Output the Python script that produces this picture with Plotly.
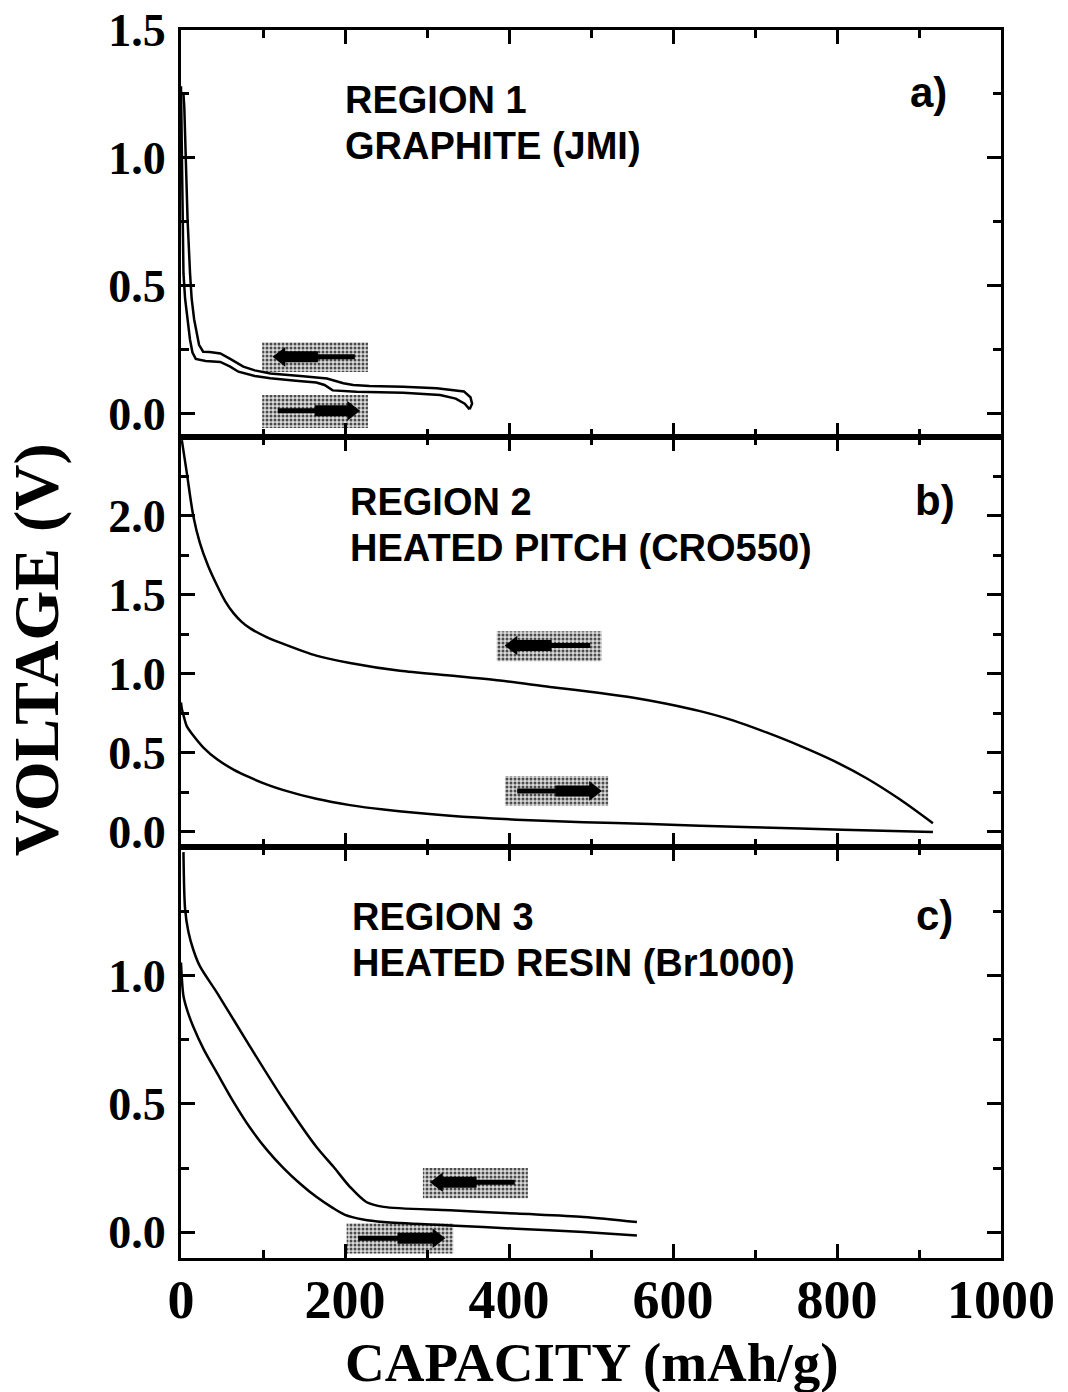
import plotly.graph_objects as go

# ---------------- data ----------------
# Panel a) Region 1, graphite (JMI)
cap_a_dis = [0, 1, 2, 3, 5, 8, 11, 14, 18, 30, 48, 60, 70, 90, 109, 140, 165, 175, 185, 214, 271, 316, 335, 346, 352]
v_a_dis = [1.28, 1.0, 0.76, 0.55, 0.45, 0.37, 0.29, 0.24, 0.215, 0.207, 0.203, 0.185, 0.165, 0.148, 0.139, 0.13, 0.123, 0.113, 0.092, 0.087, 0.083, 0.074, 0.06, 0.04, 0.018]
cap_a_chg = [352, 355, 353, 345, 312, 271, 230, 210, 198, 185, 178, 149, 109, 90, 76, 60, 48, 35, 27, 22, 19, 16, 13, 11, 8, 6, 4, 3]
v_a_chg = [0.018, 0.04, 0.065, 0.088, 0.10, 0.106, 0.109, 0.113, 0.12, 0.133, 0.138, 0.147, 0.158, 0.17, 0.185, 0.215, 0.236, 0.242, 0.243, 0.27, 0.32, 0.37, 0.45, 0.55, 0.76, 1.0, 1.2, 1.25]

# Panel b) Region 2, heated pitch (CRO550)
cap_b_chg = [1, 7, 15, 23, 33, 44, 54, 64, 74, 84, 105, 125, 165, 206, 267, 328, 389, 450, 511, 552, 592, 633, 674, 714, 755, 796, 836, 877, 917]
v_b_chg = [2.48, 2.276, 2.0, 1.83, 1.685, 1.56, 1.46, 1.385, 1.33, 1.29, 1.232, 1.19, 1.116, 1.07, 1.02, 0.99, 0.958, 0.918, 0.88, 0.85, 0.812, 0.765, 0.705, 0.63, 0.545, 0.45, 0.34, 0.205, 0.055]
cap_b_dis = [0, 1, 4, 7, 15, 27, 44, 64, 84, 105, 125, 165, 206, 247, 328, 409, 491, 572, 633, 755, 868, 917]
v_b_dis = [0.82, 0.78, 0.72, 0.67, 0.61, 0.536, 0.46, 0.395, 0.345, 0.30, 0.265, 0.21, 0.17, 0.142, 0.103, 0.078, 0.062, 0.05, 0.04, 0.022, 0.006, 0.0]

# Panel c) Region 3, heated resin (Br1000)
cap_c_chg = [3, 5, 9, 15, 23, 44, 84, 125, 165, 186, 206, 226, 247, 328, 409, 491, 556]
v_c_chg = [1.48, 1.258, 1.17, 1.10, 1.036, 0.932, 0.724, 0.516, 0.333, 0.255, 0.177, 0.118, 0.099, 0.086, 0.073, 0.06, 0.04]
cap_c_dis = [0, 3, 8, 15, 28, 44, 64, 84, 105, 125, 145, 165, 185, 200, 222, 247, 328, 409, 491, 556]
v_c_dis = [1.05, 0.92, 0.86, 0.80, 0.71, 0.62, 0.508, 0.408, 0.32, 0.25, 0.19, 0.138, 0.095, 0.068, 0.05, 0.04, 0.027, 0.014, 0.001, -0.012]

# shaded direction boxes: [x0, x1, y0, y1] per panel (top box, bottom box)
boxes_a = [[99, 228, 0.164, 0.28], [99, 228, -0.055, 0.074]]
boxes_b = [[385, 513, 1.08, 1.27], [395, 521, 0.165, 0.354]]
boxes_c = [[295, 423, 0.133, 0.25], [202, 332, -0.082, 0.035]]
# arrows: [tail x, head x, y]
arrows_a = [[212, 122, 0.223], [118, 208, 0.012]]
arrows_b = [[499, 405, 1.18], [410, 503, 0.26]]
arrows_c = [[407, 314, 0.195], [216, 312, -0.023]]

titles = [["REGION 1", "GRAPHITE (JMI)"],
          ["REGION 2", "HEATED PITCH (CRO550)"],
          ["REGION 3", "HEATED RESIN (Br1000)"]]
letters = ["a)", "b)", "c)"]

x_ticks = [0, 200, 400, 600, 800, 1000]
y_ticks_a = [0.0, 0.5, 1.0, 1.5]
y_ticks_b = [0.0, 0.5, 1.0, 1.5, 2.0]
y_ticks_c = [0.0, 0.5, 1.0]

# ---------------- figure ----------------
fig = go.Figure()
panels = [
    ("x", "y", cap_a_dis, v_a_dis, cap_a_chg, v_a_chg, boxes_a, arrows_a, "linear"),
    ("x2", "y2", cap_b_dis, v_b_dis, cap_b_chg, v_b_chg, boxes_b, arrows_b, "spline"),
    ("x3", "y3", cap_c_dis, v_c_dis, cap_c_chg, v_c_chg, boxes_c, arrows_c, "spline"),
]
for xa, ya, cd, vd, cc, vc, bxs, arrs, shp in panels:
    for b in bxs:
        fig.add_trace(go.Scatter(x=[b[0], b[1], b[1], b[0], b[0]], y=[b[2], b[2], b[3], b[3], b[2]],
                                 mode="lines", line=dict(width=0), fill="toself",
                                 fillcolor="#b8b8b8",
                                 fillpattern=dict(shape=".", fgcolor="#4a4a4a", bgcolor="#dcdcdc", size=4, solidity=0.45),
                                 xaxis=xa, yaxis=ya, hoverinfo="skip", showlegend=False))
    for a in arrs:
        tail, head, yy = a
        mid = tail + 0.5 * (head - tail)
        fig.add_trace(go.Scatter(x=[tail, head], y=[yy, yy], mode="lines",
                                 line=dict(color="black", width=5), xaxis=xa, yaxis=ya,
                                 hoverinfo="skip", showlegend=False))
        fig.add_trace(go.Scatter(x=[mid, head], y=[yy, yy], mode="lines",
                                 line=dict(color="black", width=11), xaxis=xa, yaxis=ya,
                                 hoverinfo="skip", showlegend=False))
        fig.add_trace(go.Scatter(x=[head], y=[yy], mode="markers",
                                 marker=dict(symbol="triangle-left" if head < tail else "triangle-right",
                                             size=17, color="black"),
                                 xaxis=xa, yaxis=ya, hoverinfo="skip", showlegend=False))
    fig.add_trace(go.Scatter(x=cd, y=vd, mode="lines", line=dict(color="black", width=2.5, shape=shp, smoothing=0.8),
                             xaxis=xa, yaxis=ya, showlegend=False))
    fig.add_trace(go.Scatter(x=cc, y=vc, mode="lines", line=dict(color="black", width=2.5, shape=shp, smoothing=0.8),
                             xaxis=xa, yaxis=ya, showlegend=False))

serif = "Liberation Serif"
sans = "Liberation Sans"

def xaxis(domain_anchor, show):
    return dict(range=[0, 1000], tickmode="array", tickvals=x_ticks, ticktext=[str(v) for v in x_ticks],
                ticks="inside", ticklen=14, tickwidth=3, tickcolor="black",
                minor=dict(tickmode="linear", tick0=0, dtick=100, ticks="inside", ticklen=8, tickwidth=2.5, tickcolor="black"),
                showline=True, linewidth=3, linecolor="black", mirror="ticks",
                showgrid=False, zeroline=False, showticklabels=show, anchor=domain_anchor,
                automargin=False,
                tickfont=dict(family=serif, size=54, color="black", weight="bold"),
                ticklabelstandoff=-8)

def yaxis(rng, tv, dom, anchor):
    return dict(range=rng, domain=dom, tickmode="array", tickvals=tv, ticktext=["%.1f" % v for v in tv],
                ticks="inside", ticklen=14, tickwidth=3, tickcolor="black",
                minor=dict(tickmode="linear", tick0=0, dtick=0.25, ticks="inside", ticklen=8, tickwidth=2.5, tickcolor="black"),
                showline=True, linewidth=3, linecolor="black", mirror="ticks",
                showgrid=False, zeroline=False, anchor=anchor, automargin=False,
                tickfont=dict(family=serif, size=46, color="black", weight="bold"),
                ticklabelstandoff=3)

dom_c = [0, 0.3347]
dom_b = [0.3347, 0.6686]
dom_a = [0.6686, 1]

fig.update_layout(
    template="none",
    width=1068, height=1392,
    margin=dict(l=181, r=67, t=30, b=134),
    paper_bgcolor="white", plot_bgcolor="white",
    xaxis=xaxis("y", False),
    xaxis2=dict(xaxis("y2", False), matches="x"),
    xaxis3=dict(xaxis("y3", True), matches="x"),
    yaxis=yaxis([-0.09, 1.5], y_ticks_a, dom_a, "x"),
    yaxis2=yaxis([-0.095, 2.5], y_ticks_b, dom_b, "x2"),
    yaxis3=yaxis([-0.1, 1.5], y_ticks_c, dom_c, "x3"),
    showlegend=False,
)

ann = []
title_pos = [(0.1976, 0.943, 0.9055), (0.2037, 0.6156, 0.578), (0.206, 0.2777, 0.2402)]
letter_pos = [(0.911, 0.9495), (0.9195, 0.617), (0.9195, 0.279)]
for (tx, ty1, ty2), lines, lt, (lx, ly) in zip(title_pos, titles, letters, letter_pos):
    for t, yy in zip(lines, (ty1, ty2)):
        ann.append(dict(text=t, x=tx, y=yy, xref="paper", yref="paper", xanchor="left", yanchor="middle",
                        showarrow=False, font=dict(family=sans, size=38, color="black", weight="bold")))
    ann.append(dict(text=lt, x=lx, y=ly, xref="paper", yref="paper", xanchor="center", yanchor="middle",
                    showarrow=False, font=dict(family=sans, size=42, color="black", weight="bold")))

ann.append(dict(text="VOLTAGE (V)", x=-0.1768, y=0.495, xref="paper", yref="paper", textangle=-90,
                xanchor="center", yanchor="middle", showarrow=False,
                font=dict(family=serif, size=64, color="black", weight="bold")))
ann.append(dict(text="CAPACITY (mAh/g)", x=0.5, y=-0.0855, xref="paper", yref="paper",
                xanchor="center", yanchor="middle", showarrow=False,
                font=dict(family=serif, size=55, color="black", weight="bold")))
fig.update_layout(annotations=ann)

fig.write_html("out.html")
